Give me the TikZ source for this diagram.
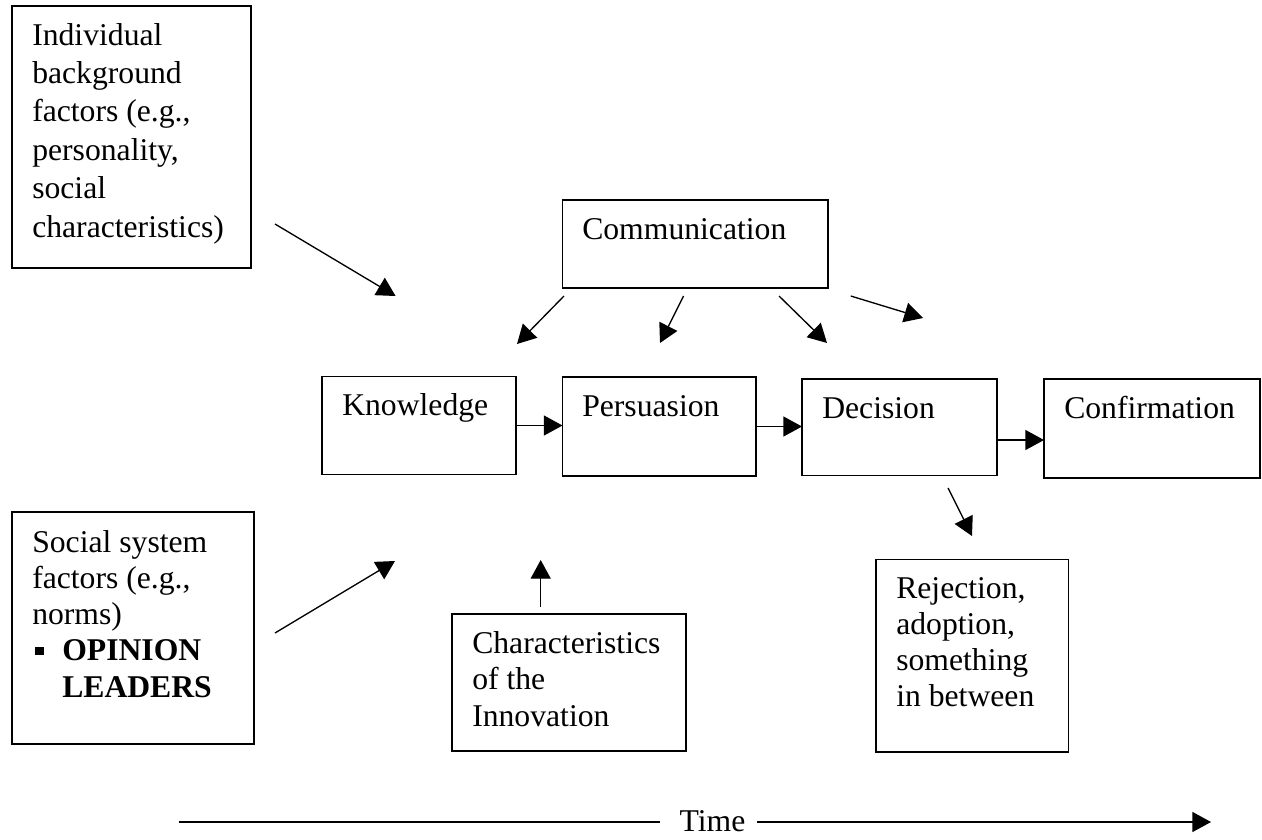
\documentclass[tikz,border=0pt]{standalone}
\usepackage{fontspec}
\setmainfont{Liberation Serif}
\usetikzlibrary{arrows.meta,calc}
\newdimen\pxu \pxu=0.75pt
\begin{document}
\begin{tikzpicture}[x=0.75pt,y=-0.75pt,
  frame/.style={draw, line width=1.3pt, inner sep=0pt, outer sep=0pt},
  txt/.style={anchor=base west, inner sep=0pt, font=\fontsize{23.75pt}{27.4pt}\selectfont},
  flow/.style={line width=1pt, -{Triangle[length=14pt,width=15pt]}}]
\useasboundingbox (0,0) rectangle (1262,839);

% boxes
\node[frame, minimum width=239*\pxu, minimum height=262*\pxu] (indiv) at (131.5,137) {};
\node[frame, minimum width=242*\pxu, minimum height=232*\pxu] (social) at (133,628) {};
\node[frame, minimum width=265.5*\pxu, minimum height=88*\pxu] (comm) at (695.25,244) {};
\node[frame, minimum width=194*\pxu, minimum height=98*\pxu] (know) at (419,425.5) {};
\node[frame, minimum width=193.5*\pxu, minimum height=99*\pxu] (pers) at (659.25,426.5) {};
\node[frame, minimum width=195*\pxu, minimum height=96.5*\pxu] (dec) at (899.5,427.25) {};
\node[frame, minimum width=216*\pxu, minimum height=99*\pxu] (conf) at (1152,428.5) {};
\node[frame, minimum width=234*\pxu, minimum height=137*\pxu] (chars) at (569,682.5) {};
\node[frame, minimum width=192.5*\pxu, minimum height=192.5*\pxu] (rej) at (972.25,655.75) {};

% box texts
\node[txt, font=\fontsize{23.75pt}{28.8pt}\selectfont] (indivtext) at (32,45)
  {\begin{tabular}[t]{@{}l@{}}Individual\\background\\factors (e.g.,\\personality,\\social\\characteristics)\end{tabular}};
\node[txt, font=\fontsize{23.75pt}{27.2pt}\selectfont] (socialtext) at (32,552)
  {\begin{tabular}[t]{@{}l@{}}Social system\\factors (e.g.,\\norms)\\%
   \makebox[22.5pt][l]{\hspace{2.25pt}\raisebox{4.3pt}{\rule{6.2pt}{6.2pt}}}\textbf{OPINION}\\%
   \hspace{22.5pt}\textbf{LEADERS}\end{tabular}};
\node[txt] (commtext) at (582,239) {Communication};
\node[txt] (knowtext) at (342,415) {Knowledge};
\node[txt] (perstext) at (582,416) {Persuasion};
\node[txt] (dectext) at (822,418) {Decision};
\node[txt] (conftext) at (1064,418) {Confirmation};
\node[txt] (charstext) at (472,653)
  {\begin{tabular}[t]{@{}l@{}}Characteristics\\of the\\Innovation\end{tabular}};
\node[txt, font=\fontsize{23.75pt}{27pt}\selectfont] (rejtext) at (896,598)
  {\begin{tabular}[t]{@{}l@{}}Rejection,\\adoption,\\something\\in between\end{tabular}};

% free arrow ends
\coordinate (ia) at (275,224);  \coordinate (ib) at (395.6,296);
\coordinate (sa) at (275,633);  \coordinate (sb) at (395,561);
\coordinate (c1a) at (564,296); \coordinate (c1b) at (517,344);
\coordinate (c2a) at (683.6,296); \coordinate (c2b) at (660,343);
\coordinate (c3a) at (779,296); \coordinate (c3b) at (827,343);
\coordinate (c4a) at (850.7,296); \coordinate (c4b) at (923,318);
\coordinate (ha) at (540.7,607); \coordinate (hb) at (540.7,560);
\coordinate (ra) at (948,488);  \coordinate (rb) at (972,536);

% influences
\draw[flow] (ia) -- (ib);
\draw[flow] (sa) -- (sb);
\draw[flow] (c1a) -- (c1b);
\draw[flow] (c2a) -- (c2b);
\draw[flow] (c3a) -- (c3b);
\draw[flow] (c4a) -- (c4b);
\draw[flow] (ha) -- (hb);
\draw[flow] (ra) -- (rb);

% stage sequence
\draw[flow] (know.east) -- (know.east -| pers.west);
\draw[flow] (pers.east) -- (pers.east -| dec.west);
\draw[flow] ($(dec.east)+(0,12.75)$) -- ($(dec.east -| conf.west)+(0,12.75)$);

% time axis
\node[anchor=base, inner sep=0pt, font=\fontsize{23.75pt}{27.4pt}\selectfont] (time) at (712.5,831) {Time};
\coordinate (tl) at (179,822);  \coordinate (tle) at (660,822);
\coordinate (trs) at (757,822); \coordinate (tr) at (1211,822);
\draw[line width=1pt] (tl) -- (tle);
\draw[flow] (trs) -- (tr);
\end{tikzpicture}
\end{document}
